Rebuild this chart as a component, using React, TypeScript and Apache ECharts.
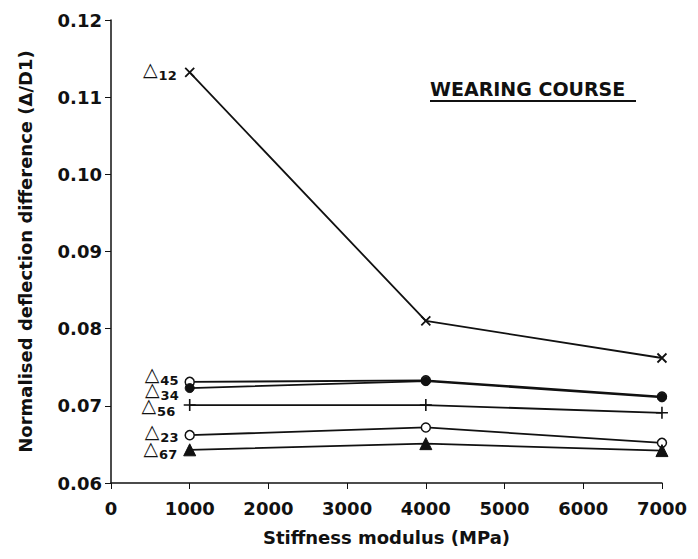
import React, { useEffect, useRef } from "react";
import * as echarts from "echarts";

const stiffness = [1000, 4000, 7000];
const d12 = [0.1132, 0.081, 0.0762];
const d45 = [0.0731, 0.0733, 0.0712];
const d34 = [0.0723, 0.0732, 0.0711];
const d56 = [0.0701, 0.0701, 0.0691];
const d23 = [0.0662, 0.0672, 0.0652];
const d67 = [0.0643, 0.0651, 0.0642];
const seriesNames = ["12", "45", "34", "56", "23", "67"];
const xTicks = [0, 1000, 2000, 3000, 4000, 5000, 6000, 7000];
const yTicks = [0.06, 0.07, 0.08, 0.09, 0.1, 0.11, 0.12];

const FONT = "'DejaVu Sans', sans-serif";
const CROSS = "path://M0,0L10,10M10,0L0,10";
const PLUS = "path://M5,0L5,10M0,5L10,5";

export default function App() {
  const ref = useRef<HTMLDivElement>(null);
  useEffect(() => {
    if (!ref.current) return;
    const chart = echarts.init(ref.current, null, { renderer: "svg" });
    const lbl = (name: string, dy: number) => ({
      show: true,
      position: "left",
      distance: 6,
      offset: [0, dy],
      formatter: () => `{t|△}{s|${name}}`,
      rich: {
        t: { fontSize: 19, lineHeight: 13, color: "#111", fontFamily: "DejaVu Sans", verticalAlign: "bottom" },
        s: { fontSize: 13, lineHeight: 13, fontWeight: "bold", color: "#111", fontFamily: FONT, padding: [7, 0, 0, 1] },
      },
    });
    const mk = (
      idx: number,
      values: number[],
      symbol: string,
      size: number,
      fill: string,
      stroke: string,
      bw: number,
      dy: number
    ) => ({
      type: "line",
      name: seriesNames[idx],
      data: stiffness.map((x, i) => {
        const p: any = { value: [x, values[i]] };
        if (i === 0) p.label = lbl(seriesNames[idx], dy);
        return p;
      }),
      symbol,
      symbolSize: size,
      showAllSymbol: true,
      lineStyle: { color: "#111", width: 1.8 },
      itemStyle: { color: fill, borderColor: stroke, borderWidth: bw },
      label: { show: false },
      z: 2 + idx,
    });
    chart.setOption({
      animation: false,
      backgroundColor: "#fff",
      grid: { left: 101, right: 22, top: 12, bottom: 60 },
      graphic: [
        {
          type: "text",
          x: 422,
          y: 71,
          style: { text: "WEARING COURSE", fontFamily: FONT, fontSize: 19, fontWeight: "bold", fill: "#111" },
        },
        { type: "line", shape: { x1: 422, y1: 93, x2: 628, y2: 93 }, style: { stroke: "#111", lineWidth: 2 } },
      ],
      xAxis: {
        type: "value",
        min: 0,
        max: 7000,
        interval: 1000,
        name: "Stiffness modulus (MPa)",
        nameLocation: "middle",
        nameGap: 45,
        nameTextStyle: { fontFamily: FONT, fontSize: 18, fontWeight: "bold", color: "#111" },
        axisLine: { lineStyle: { color: "#111", width: 1.5 } },
        axisTick: { length: 6, lineStyle: { color: "#111" } },
        axisLabel: {
          fontFamily: FONT,
          fontSize: 18,
          fontWeight: "bold",
          color: "#111",
          margin: 16,
          formatter: (v: number) => (xTicks.includes(v) ? String(v) : ""),
        },
        splitLine: { show: false },
      },
      yAxis: {
        type: "value",
        min: 0.06,
        max: 0.12,
        interval: 0.01,
        name: "Normalised deflection difference (Δ/D1)",
        nameLocation: "middle",
        nameGap: 77,
        nameTextStyle: { fontFamily: FONT, fontSize: 18, fontWeight: "bold", color: "#111" },
        axisLine: { show: true, lineStyle: { color: "#111", width: 1.5 } },
        axisTick: { show: true, length: 6, lineStyle: { color: "#111" } },
        axisLabel: {
          fontFamily: FONT,
          fontSize: 18,
          fontWeight: "bold",
          color: "#111",
          margin: 9,
          formatter: (v: number) => {
            const t = yTicks.find((y) => Math.abs(y - v) < 1e-6);
            return t !== undefined ? t.toFixed(2) : "";
          },
        },
        splitLine: { show: false },
      },
      series: [
        mk(0, d12, CROSS, 9, "none", "#111", 1.8, 0),
        mk(1, d45, "circle", 9, "#fff", "#111", 1.5, -5),
        mk(2, d34, "circle", 9, "#111", "#111", 1, 4),
        mk(3, d56, PLUS, 12, "none", "#111", 1.6, 3),
        mk(4, d23, "circle", 9, "#fff", "#111", 1.5, -1),
        mk(5, d67, "triangle", 12, "#111", "#111", 1, 1),
      ],
    });
    return () => chart.dispose();
  }, []);
  return <div ref={ref} style={{ width: 682, height: 543 }} />;
}
